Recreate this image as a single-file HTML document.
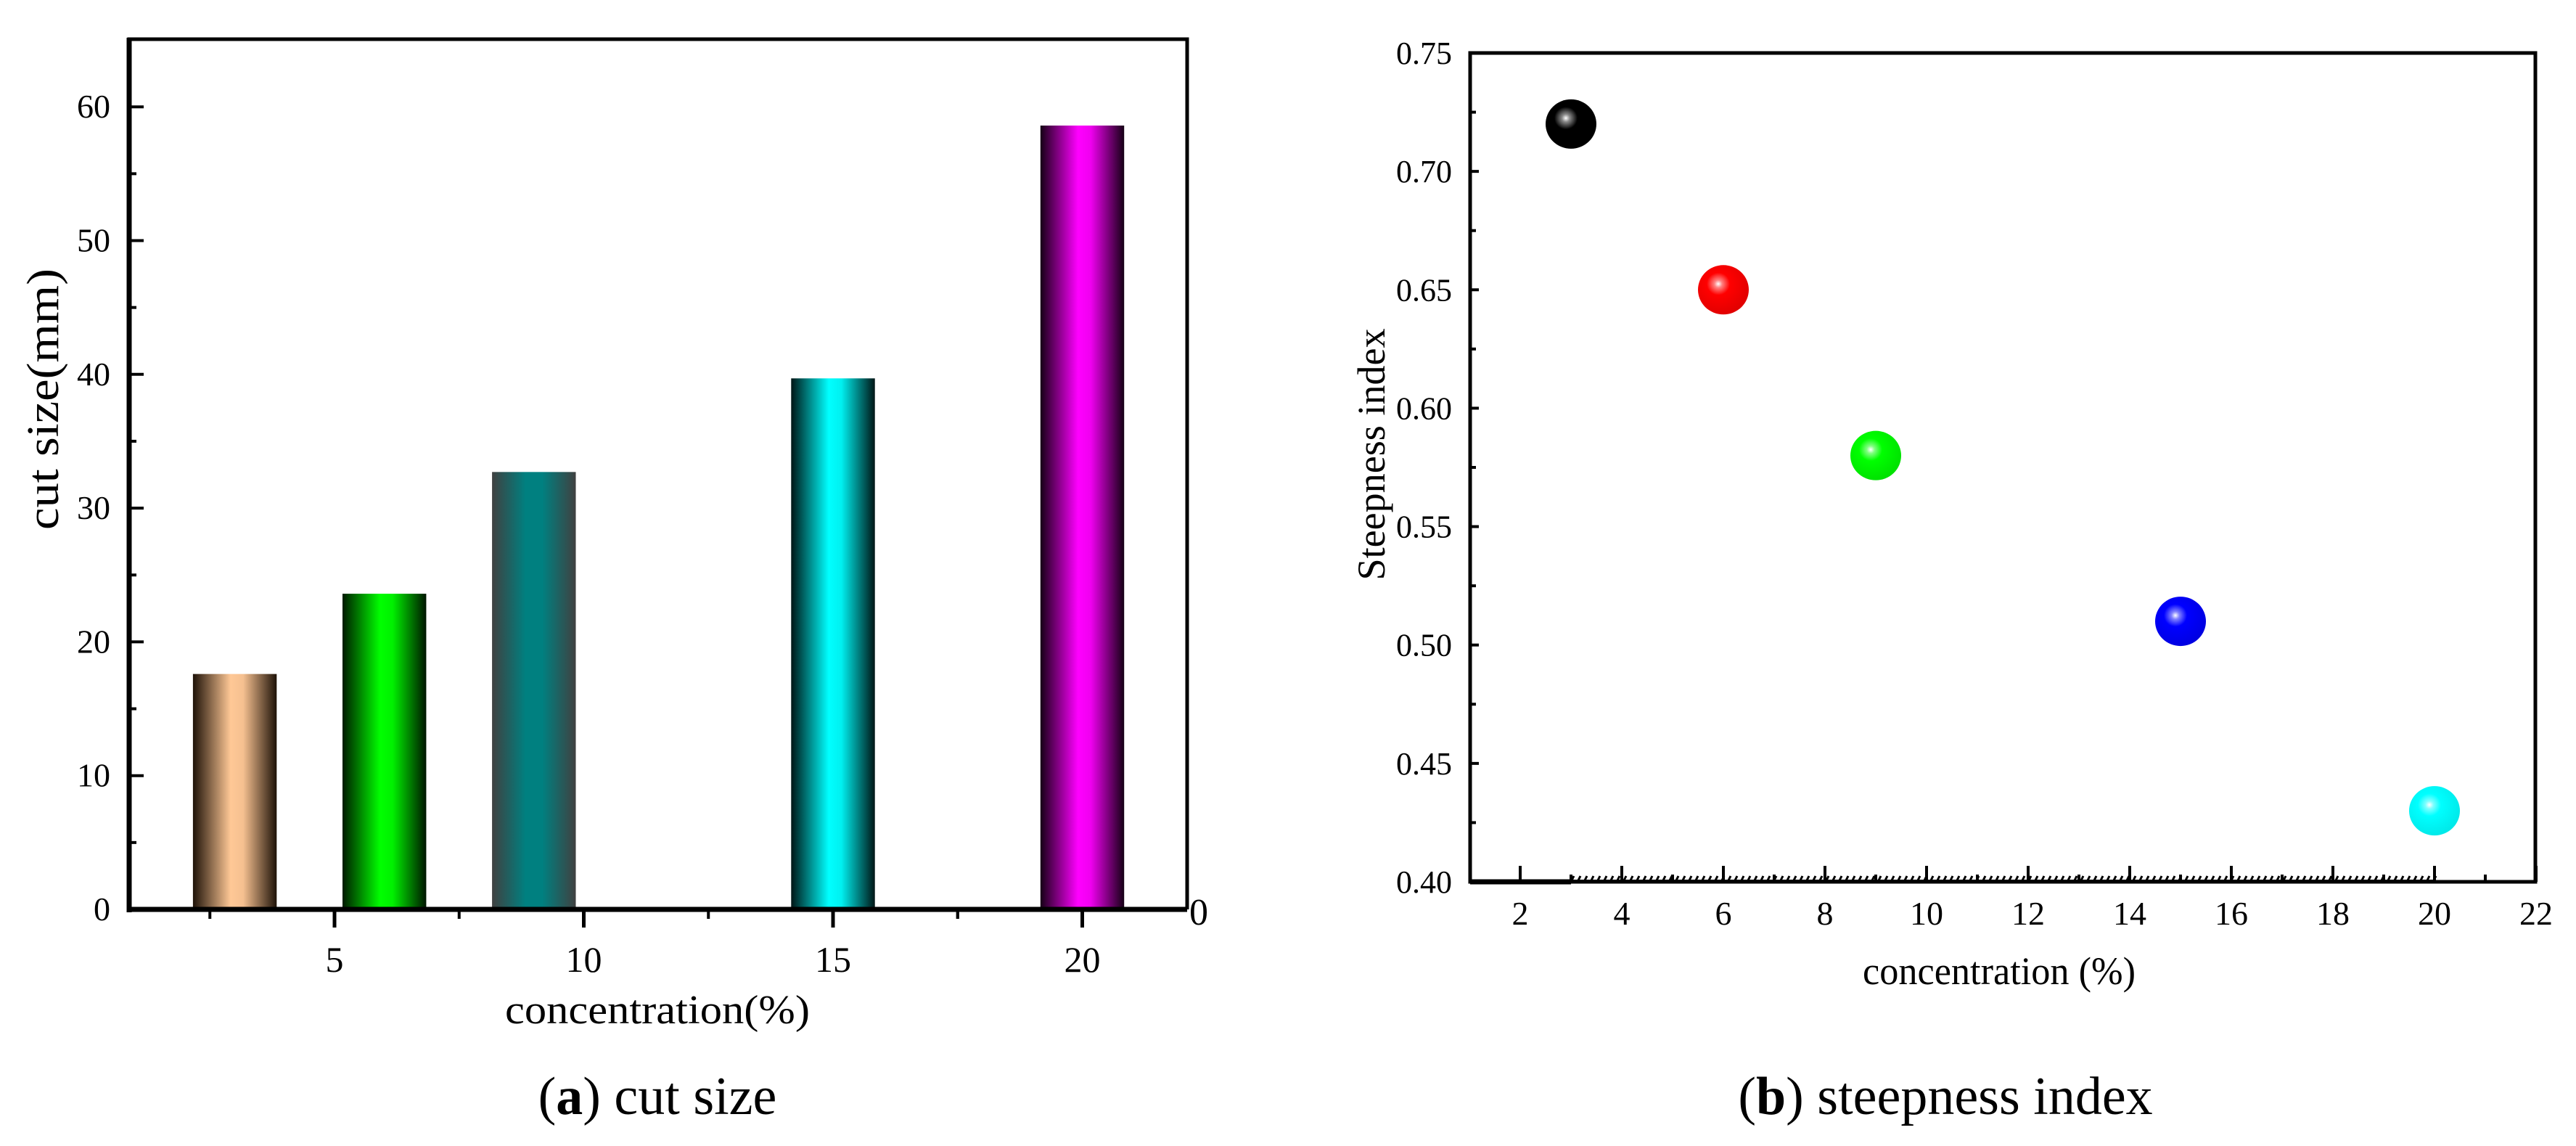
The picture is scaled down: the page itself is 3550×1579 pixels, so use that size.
<!DOCTYPE html>
<html><head><meta charset="utf-8"><style>
html,body{margin:0;padding:0;background:#fff}
svg{display:block}
text{font-family:"Liberation Serif","Noto Serif CJK SC",serif;fill:#000}
</style></head><body>
<svg id="fig" width="3550" height="1579" viewBox="0 0 3550 1579" xmlns="http://www.w3.org/2000/svg">
<defs>
<linearGradient id="g0" x1="0" x2="1" y1="0" y2="0"><stop offset="0" stop-color="#1e1208"/><stop offset="0.45" stop-color="#ffc896"/><stop offset="0.6" stop-color="#f5c090"/><stop offset="1" stop-color="#1e1208"/></linearGradient>
<linearGradient id="g1" x1="0" x2="1" y1="0" y2="0"><stop offset="0" stop-color="#001a00"/><stop offset="0.45" stop-color="#00ff00"/><stop offset="0.6" stop-color="#00f000"/><stop offset="1" stop-color="#001500"/></linearGradient>
<linearGradient id="g2" x1="0" x2="1" y1="0" y2="0"><stop offset="0" stop-color="#404040"/><stop offset="0.4" stop-color="#008080"/><stop offset="0.6" stop-color="#008080"/><stop offset="1" stop-color="#404040"/></linearGradient>
<linearGradient id="g3" x1="0" x2="1" y1="0" y2="0"><stop offset="0" stop-color="#001515"/><stop offset="0.45" stop-color="#00ffff"/><stop offset="0.6" stop-color="#00f0f0"/><stop offset="1" stop-color="#001515"/></linearGradient>
<linearGradient id="g4" x1="0" x2="1" y1="0" y2="0"><stop offset="0" stop-color="#150015"/><stop offset="0.45" stop-color="#ff00ff"/><stop offset="0.6" stop-color="#f000f0"/><stop offset="1" stop-color="#150015"/></linearGradient>
<radialGradient id="s0" cx="0.4" cy="0.38" r="0.65"><stop offset="0" stop-color="#fff"/><stop offset="0.12" stop-color="#888"/><stop offset="0.35" stop-color="#000"/><stop offset="1" stop-color="#000"/></radialGradient>
<radialGradient id="s1" cx="0.4" cy="0.38" r="0.65"><stop offset="0" stop-color="#fff"/><stop offset="0.12" stop-color="#ff8080"/><stop offset="0.35" stop-color="#ff0000"/><stop offset="1" stop-color="#e00000"/></radialGradient>
<radialGradient id="s2" cx="0.4" cy="0.38" r="0.65"><stop offset="0" stop-color="#fff"/><stop offset="0.12" stop-color="#80ff80"/><stop offset="0.35" stop-color="#00ff00"/><stop offset="1" stop-color="#00e000"/></radialGradient>
<radialGradient id="s3" cx="0.4" cy="0.38" r="0.65"><stop offset="0" stop-color="#fff"/><stop offset="0.12" stop-color="#8080ff"/><stop offset="0.35" stop-color="#0000ff"/><stop offset="1" stop-color="#0000e0"/></radialGradient>
<radialGradient id="s4" cx="0.4" cy="0.38" r="0.65"><stop offset="0" stop-color="#fff"/><stop offset="0.12" stop-color="#80ffff"/><stop offset="0.35" stop-color="#00ffff"/><stop offset="1" stop-color="#00e8e8"/></radialGradient>
</defs>
<g id="chartA"></g>
<g id="chartB"></g>
<text x="906" y="1535" font-size="74" text-anchor="middle">(<tspan font-weight="bold">a</tspan>) cut size</text>
<text x="2681" y="1535" font-size="74" text-anchor="middle">(<tspan font-weight="bold">b</tspan>) steepness index</text>
</svg>
<script>
// Chart A data
const barCats = [3, 6, 9, 15, 20];
const barVals = [17.6, 23.6, 32.7, 39.7, 58.6];
const aYTicks = [0, 10, 20, 30, 40, 50, 60];
const aXTicks = [5, 10, 15, 20];
// Chart B data
const ptX = [3, 6, 9, 15, 20];
const ptY = [0.72, 0.65, 0.58, 0.51, 0.43];
const bYTicks = ["0.40","0.45","0.50","0.55","0.60","0.65","0.70","0.75"];
const bXTicks = [2, 4, 6, 8, 10, 12, 14, 16, 18, 20, 22];

const NS = "http://www.w3.org/2000/svg";
function mk(parent, tag, attrs, txt) {
  const e = document.createElementNS(NS, tag);
  for (const k in attrs) e.setAttribute(k, attrs[k]);
  if (txt !== undefined) e.textContent = txt;
  parent.appendChild(e);
  return e;
}

// ---- Chart A ----
(function(){
  const g = document.getElementById('chartA');
  const L = 178, R = 1636, T = 54, B = 1253;
  const x = v => 461 + (v - 5) * 68.7;
  const y = v => B - v * 18.43;
  barCats.forEach((c, i) => {
    const w = 1.68 * 68.7;
    const r = mk(g, 'rect', {x: x(c) - w/2, y: y(barVals[i]), width: w, height: B - y(barVals[i]), fill: 'url(#g' + i + ')'});
    
    
  });
  let p = mk(g, 'path', {d: `M${L},${B} V${T} H${R} V${B}`, fill: 'none', stroke: '#000', 'stroke-width': 5});
   
  mk(g, 'line', {x1: L, y1: T - 2, x2: L, y2: B + 4, stroke: '#000', 'stroke-width': 7});
  mk(g, 'line', {x1: L, y1: B, x2: R, y2: B, stroke: '#000', 'stroke-width': 7});
  aYTicks.forEach(v => {
    mk(g, 'line', {x1: L, y1: y(v), x2: L + 20, y2: y(v), stroke: '#000', 'stroke-width': 4});
    if (v < 60) mk(g, 'line', {x1: L, y1: y(v + 5), x2: L + 10, y2: y(v + 5), stroke: '#000', 'stroke-width': 4});
    const t = mk(g, 'text', {x: 152, y: y(v) + 15, 'font-size': 46, 'text-anchor': 'end'}, String(v));
     
  });
  aXTicks.forEach(v => {
    mk(g, 'line', {x1: x(v), y1: B, x2: x(v), y2: B + 25, stroke: '#000', 'stroke-width': 5});
    mk(g, 'line', {x1: x(v - 2.5), y1: B, x2: x(v - 2.5), y2: B + 13, stroke: '#000', 'stroke-width': 4});
    const t = mk(g, 'text', {x: x(v), y: y(0) + 86, 'font-size': 50, 'text-anchor': 'middle'}, String(v));
     
  });
  mk(g, 'line', {x1: x(17.5), y1: B, x2: x(17.5), y2: B + 13, stroke: '#000', 'stroke-width': 4});
  let t = mk(g, 'text', {x: 1652, y: 1274, 'font-size': 52, 'text-anchor': 'middle'}, '0');
   
  t = mk(g, 'text', {x: 906, y: 1410, 'font-size': 56, 'text-anchor': 'middle', textLength: 420, lengthAdjust: 'spacingAndGlyphs'}, 'concentration(%)');
   
  t = mk(g, 'text', {x: 0, y: 0, 'font-size': 62, 'text-anchor': 'middle', transform: 'translate(80,550) rotate(-90)', textLength: 360, lengthAdjust: 'spacingAndGlyphs'}, 'cut size(mm)');
   
})();

// ---- Chart B ----
(function(){
  const g = document.getElementById('chartB');
  const L = 2026, R = 3494, T = 73, B = 1215;
  const x = v => 2095 + (v - 2) * 70;
  const y = v => B - (v - 0.40) / 0.35 * (B - T);
  let p = mk(g, 'rect', {x: L, y: T, width: R - L, height: B - T, fill: 'none', stroke: '#000', 'stroke-width': 5});
   
  mk(g, 'line', {x1: L, y1: B, x2: x(3), y2: B, stroke: '#000', 'stroke-width': 7});
  let d = '';
  for (let xx = x(3); xx < x(20); xx += 9) d += `M${xx},${B} l4,-8 `;
  mk(g, 'path', {d: d, stroke: '#000', 'stroke-width': 3, fill: 'none'});
  mk(g, 'line', {x1: x(3), y1: B - 1, x2: x(20), y2: B - 1, stroke: '#000', 'stroke-width': 4});
  bYTicks.forEach((s, i) => {
    const v = parseFloat(s);
    mk(g, 'line', {x1: L, y1: y(v), x2: L + 12, y2: y(v), stroke: '#000', 'stroke-width': 4});
    if (i < bYTicks.length - 1) mk(g, 'line', {x1: L, y1: y(v + 0.025), x2: L + 8, y2: y(v + 0.025), stroke: '#000', 'stroke-width': 4});
    const t = mk(g, 'text', {x: 2001, y: y(v) + 15, 'font-size': 44, 'text-anchor': 'end'}, s);
     
  });
  bXTicks.forEach(v => {
    mk(g, 'line', {x1: x(v), y1: B, x2: x(v), y2: B - 22, stroke: '#000', 'stroke-width': 4});
    if (v < 22) mk(g, 'line', {x1: x(v + 1), y1: B, x2: x(v + 1), y2: B - 10, stroke: '#000', 'stroke-width': 4});
    const t = mk(g, 'text', {x: x(v), y: 1274, 'font-size': 46, 'text-anchor': 'middle'}, String(v));
     
  });
  ptX.forEach((v, i) => {
    const c = mk(g, 'ellipse', {cx: x(v), cy: y(ptY[i]), rx: 35, ry: 34, fill: 'url(#s' + i + ')'});
    
    
  });
  let t = mk(g, 'text', {x: 2755, y: 1356, 'font-size': 54, 'text-anchor': 'middle', textLength: 376, lengthAdjust: 'spacingAndGlyphs'}, 'concentration (%)');
   
  t = mk(g, 'text', {x: 0, y: 0, 'font-size': 54, 'text-anchor': 'middle', transform: 'translate(1908,626) rotate(-90)', textLength: 347, lengthAdjust: 'spacingAndGlyphs'}, 'Steepness index');
   
})();
</script>
</body></html>
